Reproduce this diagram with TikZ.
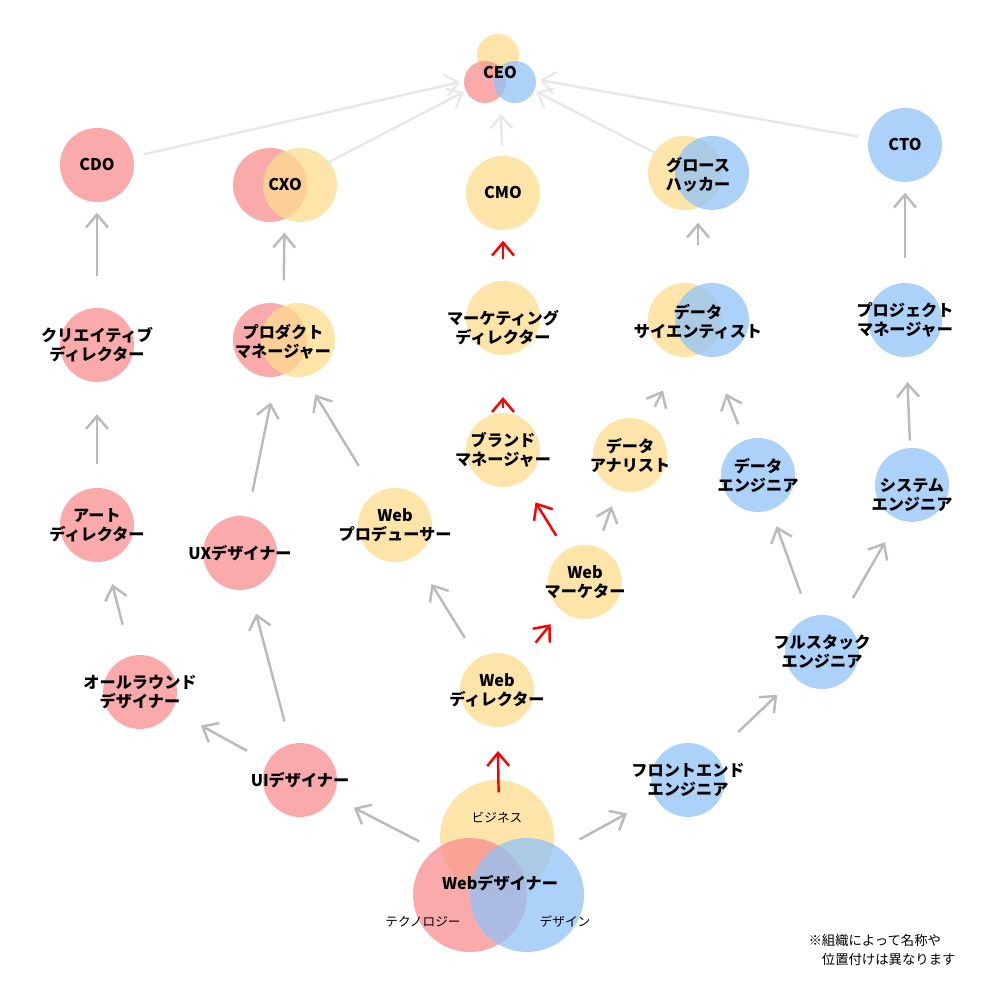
\documentclass[tikz,border=0pt]{standalone}
\usepackage{fontspec}
\setmainfont{Noto Sans CJK JP}
\usetikzlibrary{arrows.meta}
\definecolor{cred}{HTML}{F88E8E}
\definecolor{cyel}{HTML}{FDDC8E}
\definecolor{cblu}{HTML}{90C3F8}
\tikzset{
  dot/.style={shape=circle,minimum size=0.74cm,inner sep=0pt,fill opacity=0.75,text opacity=1},
  reddot/.style={dot,fill=cred},
  yeldot/.style={dot,fill=cyel},
  bludot/.style={dot,fill=cblu},
  lbl/.style={shape=circle,minimum size=0.74cm,inner sep=0pt,align=center,font=\fontsize{4.6}{5.4}\selectfont\bfseries},
  up/.style={draw=black!27,line width=0.7pt,-{Straight Barb[length=1.3mm,width=2.2mm]},shorten <=0.1cm,shorten >=0.1cm},
  far/.style={up,draw=black!9},
  hot/.style={up,draw=red}
}
\begin{document}
\begin{tikzpicture}
\useasboundingbox (0,0) rectangle (10,10);
% circles
\node(ceoY) at (4.98,9.45)[yeldot,minimum size=0.42cm]{};
\node(ceoR) at (4.85,9.18)[reddot,minimum size=0.42cm]{};
\node(ceoB) at (5.15,9.18)[bludot,minimum size=0.42cm]{};
\node(cdoC) at (0.97,8.35)[reddot]{};
\node(cxoR) at (2.70,8.15)[reddot]{};
\node(cxoY) at (3.00,8.15)[yeldot]{};
\node(cmoC) at (5.03,8.07)[yeldot]{};
\node(ghY)  at (6.85,8.27)[yeldot]{};
\node(ghB)  at (7.12,8.27)[bludot]{};
\node(ctoC) at (9.05,8.55)[bludot]{};
\node(cdC)  at (0.97,6.55)[reddot]{};
\node(pmR)  at (2.70,6.60)[reddot]{};
\node(pmY)  at (2.98,6.60)[yeldot]{};
\node(mdC)  at (5.03,6.82)[yeldot]{};
\node(dsY)  at (6.85,6.80)[yeldot]{};
\node(dsB)  at (7.12,6.80)[bludot]{};
\node(pjC)  at (9.05,6.80)[bludot]{};
\node(bmC)  at (5.03,5.50)[yeldot]{};
\node(daC)  at (6.30,5.45)[yeldot]{};
\node(deC)  at (7.58,5.25)[bludot]{};
\node(seC)  at (9.12,5.15)[bludot]{};
\node(adC)  at (0.97,4.75)[reddot]{};
\node(uxC)  at (2.40,4.47)[reddot]{};
\node(wpC)  at (3.95,4.75)[yeldot]{};
\node(wmC)  at (5.85,4.18)[yeldot]{};
\node(fsC)  at (8.22,3.48)[bludot]{};
\node(arC)  at (1.40,3.08)[reddot]{};
\node(wdC)  at (4.97,3.10)[yeldot]{};
\node(uiC)  at (3.00,2.20)[reddot]{};
\node(feC)  at (6.88,2.20)[bludot]{};
\node(wdsY) at (4.97,1.63)[yeldot,minimum size=1.14cm]{};
\node(wdsR) at (4.70,1.05)[reddot,minimum size=1.14cm]{};
\node(wdsB) at (5.27,1.05)[bludot,minimum size=1.14cm]{};
% labels
\node(ceo) at (5.00,9.27)[lbl,minimum size=0.6cm]{CEO};
\node(cdo) at (0.97,8.35)[lbl]{CDO};
\node(cxo) at (2.85,8.15)[lbl]{CXO};
\node(cmo) at (5.03,8.07)[lbl]{CMO};
\node(gh)  at (6.98,8.25)[lbl]{グロース\\ハッカー};
\node(cto) at (9.05,8.55)[lbl]{CTO};
\node(cd)  at (0.97,6.55)[lbl]{クリエイティブ\\ディレクター};
\node(pm)  at (2.83,6.58)[lbl]{プロダクト\\マネージャー};
\node(md)  at (5.03,6.72)[lbl]{マーケティング\\ディレクター};
\node(ds)  at (6.98,6.78)[lbl]{データ\\サイエンティスト};
\node(pj)  at (9.05,6.80)[lbl]{プロジェクト\\マネージャー};
\node(bm)  at (5.03,5.50)[lbl]{ブランド\\マネージャー};
\node(da)  at (6.30,5.45)[lbl]{データ\\アナリスト};
\node(de)  at (7.58,5.25)[lbl]{データ\\エンジニア};
\node(se)  at (9.12,5.05)[lbl]{システム\\エンジニア};
\node(ad)  at (0.97,4.75)[lbl]{アート\\ディレクター};
\node(ux)  at (2.40,4.47)[lbl]{UXデザイナー};
\node(wp)  at (3.95,4.75)[lbl]{Web\\プロデューサー};
\node(wm)  at (5.85,4.18)[lbl]{Web\\マーケター};
\node(fs)  at (8.22,3.48)[lbl]{フルスタック\\エンジニア};
\node(ar)  at (1.40,3.08)[lbl]{オールラウンド\\デザイナー};
\node(wd)  at (4.97,3.10)[lbl]{Web\\ディレクター};
\node(ui)  at (3.00,2.20)[lbl]{UIデザイナー};
\node(fe)  at (6.88,2.20)[lbl]{フロントエンド\\エンジニア};
\node(wds) at (5.00,1.17)[lbl,minimum size=1.6cm]{Webデザイナー};
\node(biz) at (4.97,1.82)[font=\fontsize{3.6}{4}\selectfont]{ビジネス};
\node(tec) at (4.23,0.78)[font=\fontsize{3.6}{4}\selectfont]{テクノロジー};
\node(des) at (5.65,0.78)[font=\fontsize{3.6}{4}\selectfont]{デザイン};
\node(note) at (8.82,0.50)[align=left,font=\fontsize{3.8}{5.2}\selectfont]{※組織によって名称や\\\quad 位置付けは異なります};
% arrows
\draw[far] (cdo) -- (ceo);
\draw[far] (cxo) -- (ceo);
\draw[far] (cmo) -- (ceo);
\draw[far] (gh) -- (ceo);
\draw[far] (cto) -- (ceo);
\draw[up] (cd) -- (cdo);
\draw[up] (pm) -- (cxo);
\draw[up] (ds) -- (gh);
\draw[up] (pj) -- (cto);
\draw[up] (ad) -- (cd);
\draw[up] (ux) -- (pm);
\draw[up] (wp) -- (pm);
\draw[up] (da) -- (ds);
\draw[up] (de) -- (ds);
\draw[up] (se) -- (pj);
\draw[up] (ar) -- (ad);
\draw[up] (ui) -- (ux);
\draw[up] (wd) -- (wp);
\draw[up] (wm) -- (da);
\draw[up] (fs) -- (de);
\draw[up] (fs) -- (se);
\draw[up] (ui) -- (ar);
\draw[up] (wds) -- (ui);
\draw[up] (wds) -- (fe);
\draw[up] (fe) -- (fs);
\draw[hot] (wds) -- (wd);
\draw[hot] (wd) -- (wm);
\draw[hot] (wm) -- (bm);
\draw[hot] (bm) -- (md);
\draw[hot] (md) -- (cmo);
\end{tikzpicture}
\end{document}
